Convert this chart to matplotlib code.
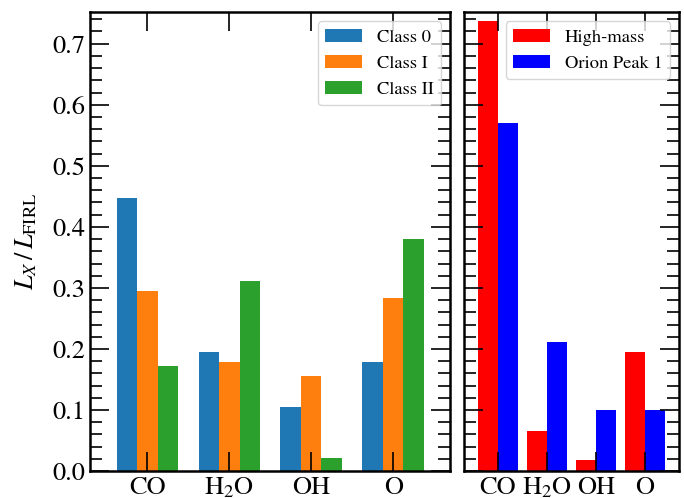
import numpy as np
import matplotlib
matplotlib.use('Agg')
import matplotlib.pyplot as plt
from matplotlib.ticker import MultipleLocator

plt.rcParams['font.family'] = ['STIXGeneral', 'DejaVu Serif']
plt.rcParams['mathtext.fontset'] = 'stix'

species = ['CO', r'H$_2$O', 'OH', 'O']
class0 = [0.447, 0.195, 0.105, 0.178]
class1 = [0.295, 0.178, 0.156, 0.283]
class2 = [0.172, 0.311, 0.021, 0.380]
highmass = [0.738, 0.066, 0.018, 0.195]
orion = [0.570, 0.211, 0.100, 0.100]

fig = plt.figure(figsize=(6.84, 4.98), dpi=100)
ax1 = fig.add_axes([0.1316, 0.054, 0.527, 0.922])
ax2 = fig.add_axes([0.678, 0.054, 0.315, 0.922])

x = np.arange(len(species))
w = 0.25
ax1.bar(x - w, class0, w, color='tab:blue', label='Class 0')
ax1.bar(x, class1, w, color='tab:orange', label='Class I')
ax1.bar(x + w, class2, w, color='tab:green', label='Class II')

w2 = 0.4
ax2.bar(x - w2 / 2, highmass, w2, color='red', label='High-mass')
ax2.bar(x + w2 / 2, orion, w2, color='blue', label='Orion Peak 1')

for ax in (ax1, ax2):
    ax.set_xlim(-0.7, 3.7)
    ax.set_ylim(0, 0.752)
    ax.set_xticks(x)
    ax.set_xticklabels(species)
    ax.yaxis.set_major_locator(MultipleLocator(0.1))
    ax.yaxis.set_minor_locator(MultipleLocator(0.02))
    ax.tick_params(which='both', direction='in', top=True, right=True, width=1.2)
    ax.tick_params(axis='y', which='minor', length=8.5)
    ax.tick_params(which='major', length=14, labelsize=19)
    ax.tick_params(axis='x', which='minor', bottom=False, top=False)
    for s in ax.spines.values():
        s.set_linewidth(1.8)
    ax.legend(loc='upper right', fontsize=13.3)

ax2.tick_params(axis='y', labelleft=False)
ax1.set_ylabel(r'$L_X\,/\,L_{\rm FIRL}$', fontsize=19, labelpad=9)

fig.savefig('out.png', dpi=100)
